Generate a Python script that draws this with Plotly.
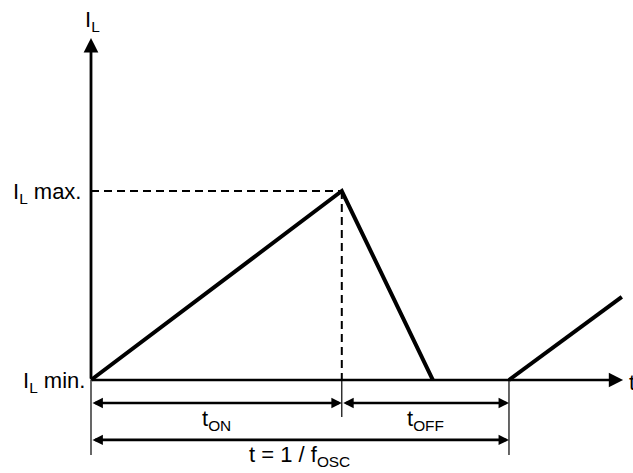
import plotly.graph_objects as go

# ---- data (time in units of one period, current normalised: I_L min = 0, I_L max = 1)
t_wave = [0.0, 0.6, 0.818, 1.0, 1.27]
i_wave = [0.0, 1.0, 0.0, 0.0, 0.44]
t_on_end = 0.6
t_period = 1.0
i_min = 0.0
i_max = 1.0

x_axis_end = 1.273
y_axis_end = 1.81

dim_level_1 = -0.122
dim_level_2 = -0.317
tick_bottom = [-0.397, -0.196, -0.397]
tick_pos = [0.0, 0.6, 1.0]

label_top = "I<sub>L</sub>"
label_max = "I<sub>L</sub> max."
label_min = "I<sub>L</sub> min."
label_t = "t"
label_ton = "t<sub>ON</sub>"
label_toff = "t<sub>OFF</sub>"
label_period = "t = 1 / f<sub>OSC</sub>"

FONT = "Liberation Sans, Arial, sans-serif"
BLACK = "#000000"

fig = go.Figure()

# dashed guide lines to peak
fig.add_trace(go.Scatter(x=[0, t_on_end], y=[i_max, i_max], mode="lines",
                         line=dict(color=BLACK, width=2, dash="8px,5px"), hoverinfo="skip"))
fig.add_trace(go.Scatter(x=[t_on_end, t_on_end], y=[i_max, i_min], mode="lines",
                         line=dict(color=BLACK, width=2, dash="8px,5px"), hoverinfo="skip"))

# thin tick lines below axis
for xp, yb in zip(tick_pos, tick_bottom):
    fig.add_trace(go.Scatter(x=[xp, xp], y=[i_min, yb], mode="lines",
                             line=dict(color=BLACK, width=1.2), hoverinfo="skip"))

# waveform: segments lying on the time axis are left to the axis line itself
seg_x, seg_y = [], []
for k in range(len(t_wave) - 1):
    if i_wave[k] == i_min and i_wave[k + 1] == i_min:
        seg_x.append(None)
        seg_y.append(None)
        continue
    if not seg_x or seg_x[-1] is None or seg_x[-1] != t_wave[k]:
        seg_x.append(t_wave[k])
        seg_y.append(i_wave[k])
    seg_x.append(t_wave[k + 1])
    seg_y.append(i_wave[k + 1])

fig.add_trace(go.Scatter(x=seg_x, y=seg_y, mode="lines", connectgaps=False,
                         line=dict(color=BLACK, width=4), hoverinfo="skip"))

annotations = []

def arrow(x0, y0, x1, y1, width, size, both=False):
    return dict(x=x1, y=y1, ax=x0, ay=y0, xref="x", yref="y", axref="x", ayref="y",
                text="", showarrow=True, arrowhead=2, startarrowhead=2,
                arrowsize=size, startarrowsize=size, arrowwidth=width,
                arrowcolor=BLACK, arrowside="end+start" if both else "end",
                standoff=0, startstandoff=0)

# axes
annotations.append(arrow(0, i_min, x_axis_end, i_min, 2.6, 1.1))
annotations.append(arrow(0, i_min, 0, y_axis_end, 2.8, 1.05))

# dimension arrows
annotations.append(arrow(0, dim_level_1, t_on_end, dim_level_1, 2.6, 0.8, both=True))
annotations.append(arrow(t_on_end, dim_level_1, t_period, dim_level_1, 2.6, 0.8, both=True))
annotations.append(arrow(0, dim_level_2, t_period, dim_level_2, 2.6, 0.8, both=True))

def label(x, y, text, xanchor="center", yanchor="middle", xshift=0, yshift=0):
    return dict(x=x, y=y, xref="x", yref="y", text=text, showarrow=False,
                xanchor=xanchor, yanchor=yanchor, xshift=xshift, yshift=yshift,
                font=dict(family=FONT, size=22, color=BLACK))

annotations.append(label(0, y_axis_end, label_top, yanchor="bottom", xshift=1, yshift=1))
annotations.append(label(0, i_max, label_max, xanchor="right", xshift=-8, yshift=-2))
annotations.append(label(0, i_min, label_min, xanchor="right", xshift=-4, yshift=-2))
annotations.append(label(x_axis_end, i_min, label_t, xanchor="left", xshift=4, yshift=-2))
annotations.append(label(t_on_end / 2, dim_level_1, label_ton, yanchor="top", yshift=-1))
annotations.append(label((t_on_end + t_period) / 2, dim_level_1, label_toff, yanchor="top", yshift=-1))
annotations.append(label(t_period / 2, dim_level_2, label_period, yanchor="top", yshift=0))

fig.update_layout(
    width=633, height=473, autosize=False,
    margin=dict(l=0, r=0, t=0, b=0),
    paper_bgcolor="white", plot_bgcolor="white",
    showlegend=False,
    annotations=annotations,
    xaxis=dict(range=[-0.2177, 1.2967], visible=False, fixedrange=True),
    yaxis=dict(range=[-0.492, 2.0106], visible=False, fixedrange=True),
)

fig.write_html(
    "out.html",
    config={"displayModeBar": False, "staticPlot": True},
    post_script="document.body.style.margin='0';document.body.style.overflow='hidden';",
)
